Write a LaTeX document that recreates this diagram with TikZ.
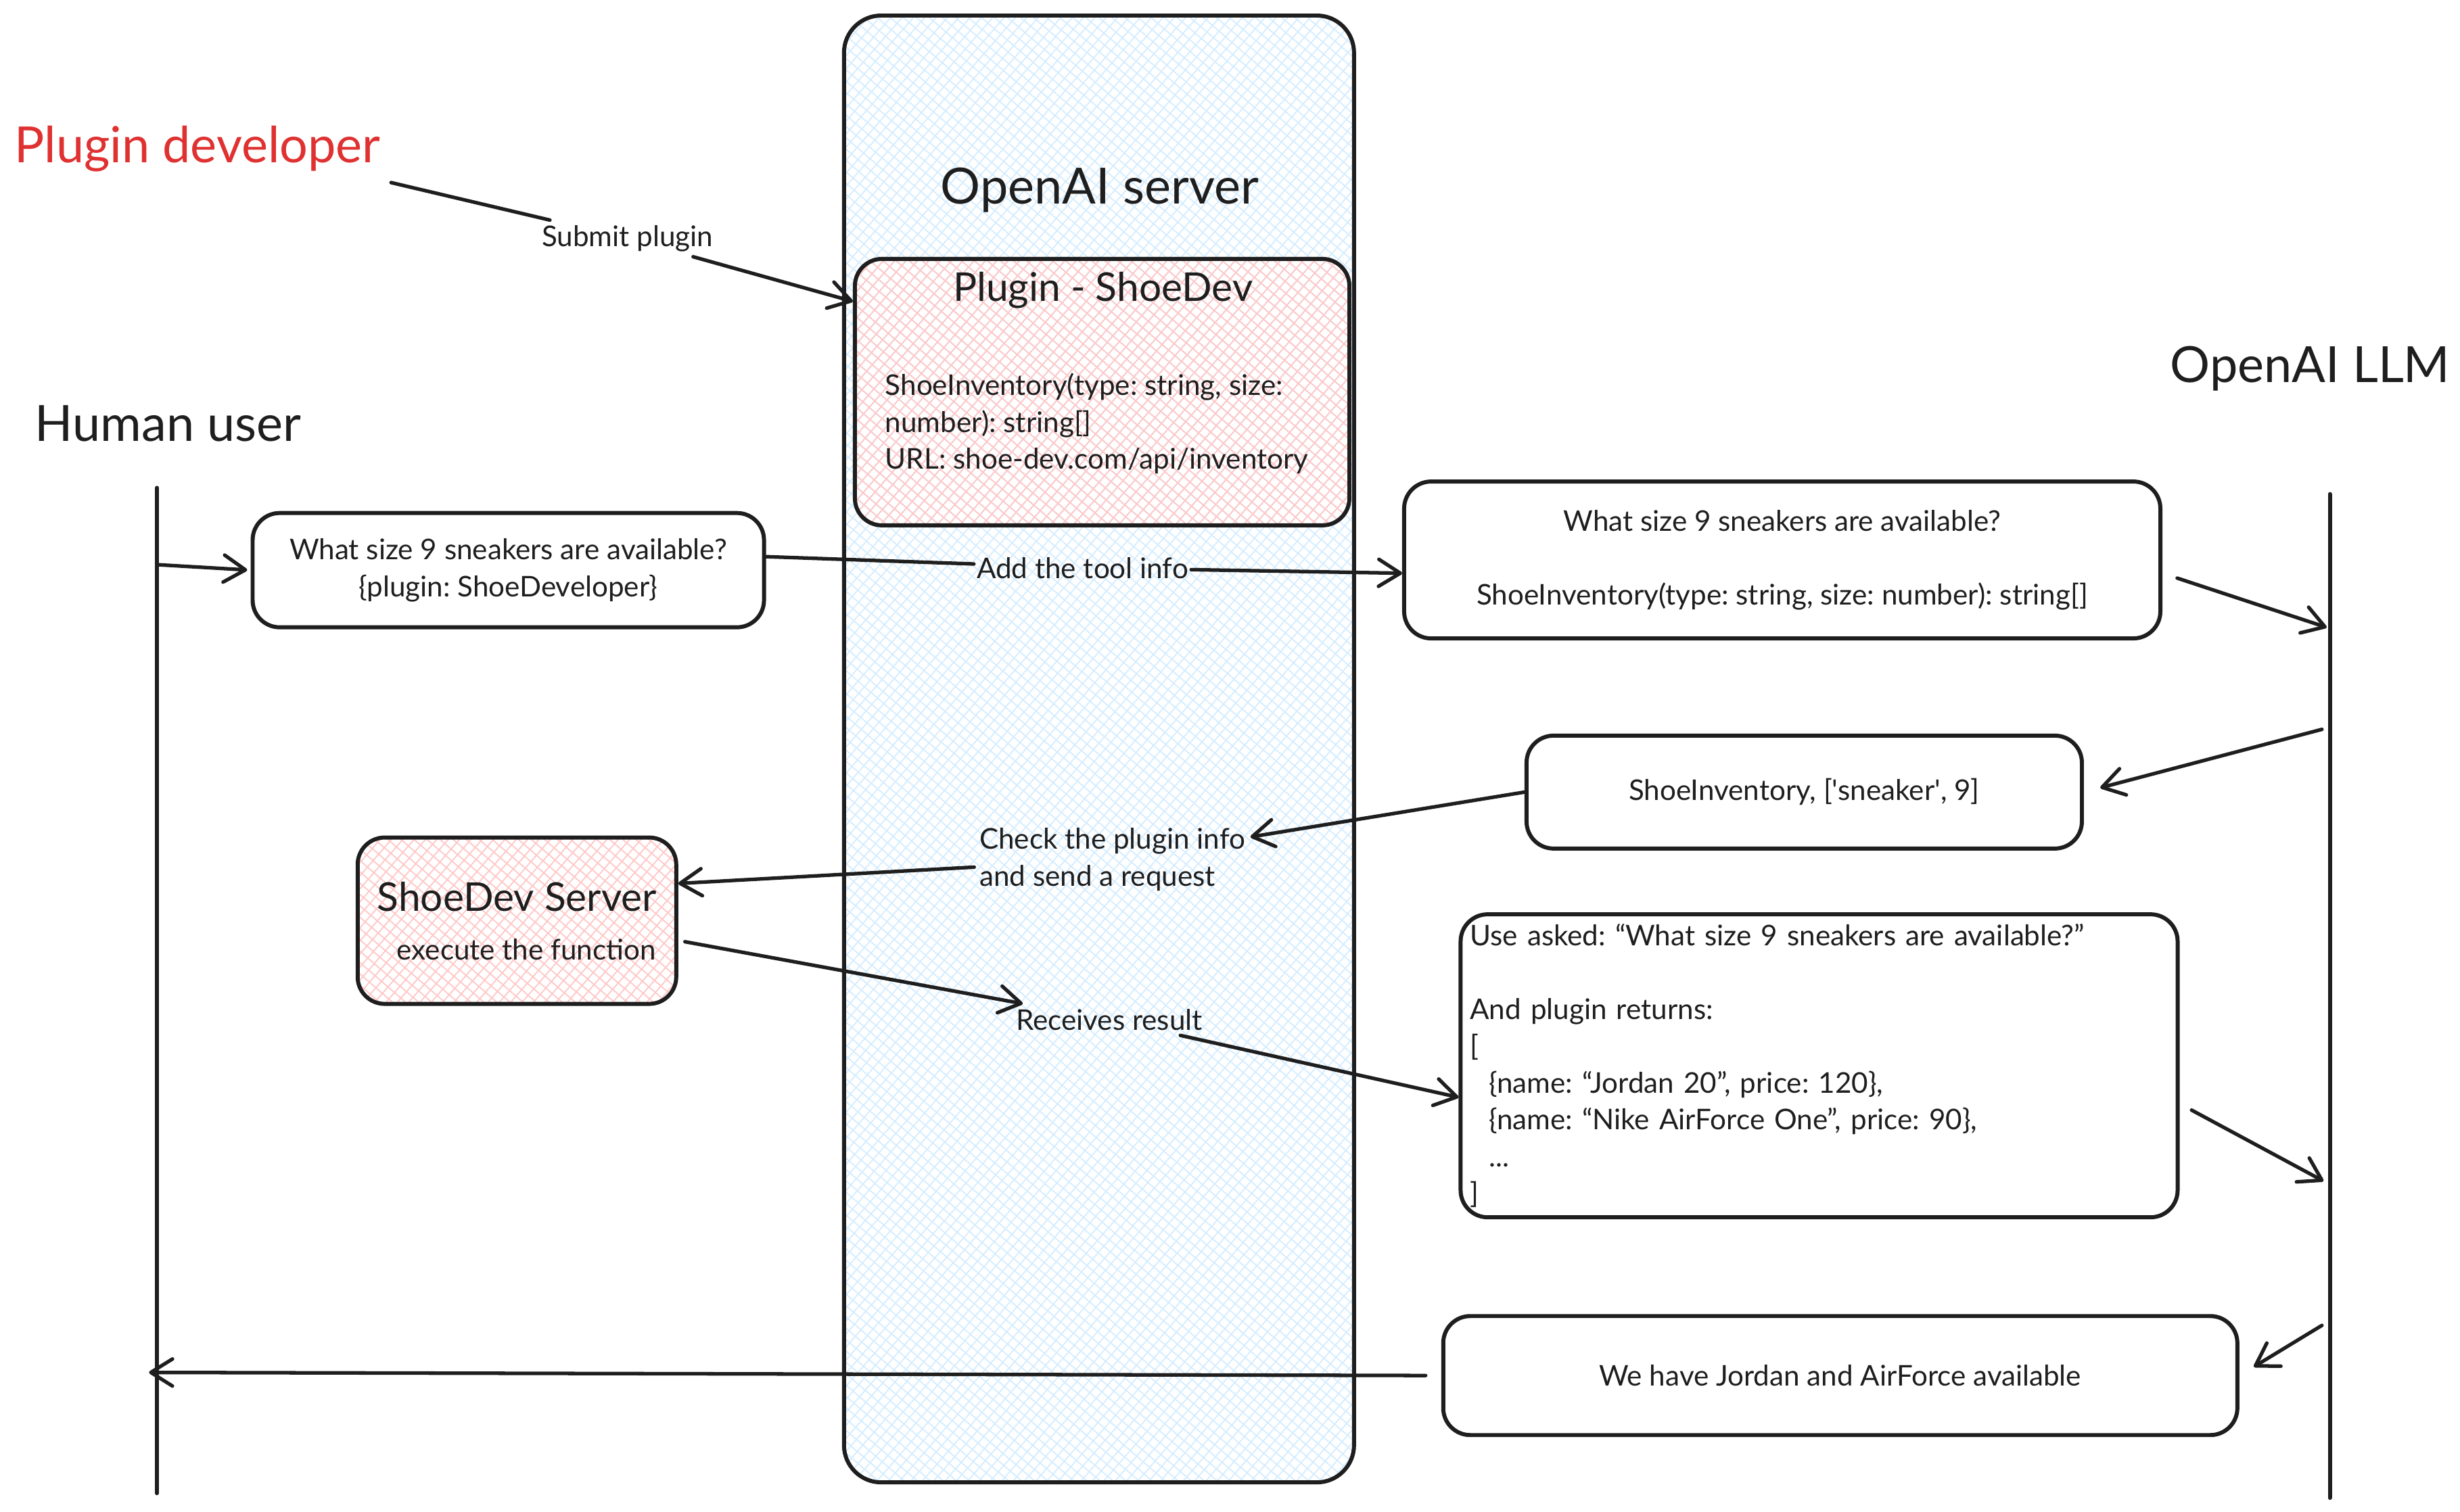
\documentclass[tikz,border=0pt]{standalone}
\usepackage{fontspec}
\setmainfont{Lato}
\frenchspacing
\usetikzlibrary{arrows.meta}
\usetikzlibrary{patterns.meta}
\usetikzlibrary{positioning}
\definecolor{ink}{HTML}{1E1E1E}
\definecolor{devred}{HTML}{E03131}
\definecolor{hatchblue}{RGB}{214,237,255}
\definecolor{hatchred}{HTML}{FFC9C9}
\newcommand\bigtxt{\fontsize{21pt}{25pt}\selectfont}
\newcommand\midtxt{\fontsize{16.7pt}{20pt}\selectfont}
\newcommand\smalltxt{\fontsize{12pt}{15.5pt}\selectfont}
\tikzset{
  box/.style={draw=ink, line width=1.7pt, rounded corners=0.4cm, inner sep=0pt},
  hatch/.style={pattern={Hatch[angle=49,distance=3.6pt,line width=0.55pt]}, pattern color=#1},
  lbl/.style={inner sep=2pt},
  life/.style={draw=ink, line width=1.7pt, line cap=round},
  link/.style={draw=ink, line width=1.5pt, line cap=round},
  flow/.style={link, -{Straight Barb[length=3.2mm,width=4mm,round]}},
}

\begin{document}
\begin{tikzpicture}[x=0.023195cm, y=-0.023195cm, font=\smalltxt, text=ink]
    \useasboundingbox (0,0) rectangle (1568,963.6);

    \node[box, hatch=hatchblue, rounded corners=0.55cm, minimum width=7.54cm, minimum height=21.69cm] (server) at (700.5,477.5) {};
    \node[font=\bigtxt] (servertitle) at (701,121) {OpenAI server};
    \node[box, hatch=hatchred, minimum width=7.31cm, minimum height=3.94cm] (plugin) at (702.5,250) {};
    \node[font=\midtxt] (plugintitle) at (703,185) {Plugin - ShoeDev};
    \node[anchor=west, align=left, inner sep=0pt] (pluginbody) at (564,270) {ShoeInventory(type: string, size:\\number): string[]\\URL: shoe-dev.com/api/inventory};

    \node[anchor=west, inner sep=0pt, font=\bigtxt, text=devred] (dev) at (9,95) {Plugin developer};
    \node[anchor=west, inner sep=0pt, font=\bigtxt] (human) at (22,270) {Human user};
    \node[anchor=west, inner sep=0pt, font=\bigtxt] (llm) at (1383,235) {OpenAI LLM};

    \coordinate (hutop) at (100,311);
    \coordinate (hubot) at (100,952);
    \coordinate (llmtop) at (1485,315);
    \coordinate (llmbot) at (1485,955);
    \draw[life] (hutop) -- (hubot);
    \draw[life] (llmtop) -- (llmbot);

    \node[box, minimum width=7.56cm, minimum height=1.69cm, align=center] (ask) at (324,363.5) {What size 9 sneakers are available?\\\{plugin: ShoeDeveloper\}};
    \node[box, minimum width=11.18cm, minimum height=2.32cm, align=center] (query) at (1136,357) {What size 9 sneakers are available?\\[\baselineskip]ShoeInventory(type: string, size: number): string[]};
    \node[box, minimum width=8.21cm, minimum height=1.67cm] (call) at (1150,505) {ShoeInventory, [\textquotesingle sneaker\textquotesingle, 9]};
    \node[box, hatch=hatchred, minimum width=4.71cm, minimum height=2.46cm, align=center] (shoedev) at (329.5,587) {{\midtxt ShoeDev Server}\\[5pt]\hspace*{0.28cm}execute the function};
    \node[box, minimum width=10.6cm, minimum height=4.48cm, text width=10.32cm, inner xsep=0.14cm, align=left] (result) at (1159.5,679.5) {Use asked: “What size 9 sneakers are available?”\\[\baselineskip]And plugin returns:\\{[}\\\hspace*{0.28cm}\{name: “Jordan 20”, price: 120\},\\\hspace*{0.28cm}\{name: “Nike AirForce One”, price: 90\},\\\hspace*{0.28cm}...\\{]}};
    \node[box, minimum width=11.74cm, minimum height=1.76cm] (answer) at (1173,877) {We have Jordan and AirForce available};

    \node[lbl] (submit) at (400,152) {Submit plugin};
    \node[lbl, inner sep=1pt] (addtool) at (690,362) {Add the tool info};
    \node[lbl, align=left] (check) at (709,548) {Check the plugin info\\and send a request};
    \node[lbl] (recv) at (707,650) {Receives result};

    \coordinate (hu1) at (100,360);
    \coordinate (hu2) at (95,875);
    \coordinate (llm1) at (1483,400);
    \coordinate (llm2) at (1480,465);
    \coordinate (llm3) at (1481,753);
    \coordinate (llm4) at (1480,845);

    \draw[link] ([xshift=0.15cm, yshift=-0.15cm]dev.south east) -- (submit);
    \draw[flow] (submit) -- (plugin.160);
    \draw[flow, shorten >=0.05cm] (hu1) -- (ask.west);
    \draw[link] (ask.3) -- (addtool);
    \draw[flow] (addtool) -- (query.182);
    \draw[flow, shorten <=0.23cm] (query.-2) -- (llm1);
    \draw[flow, shorten >=0.25cm] (llm2) -- (call.east);
    \draw[flow] (call.west) -- (check);
    \draw[flow] (check) -- (shoedev.13);
    \draw[flow, shorten <=0.1cm] (shoedev.-7) -- (recv);
    \draw[flow] (recv) -- (result.185);
    \draw[flow, shorten <=0.2cm] (result.-6) -- (llm3);
    \draw[flow, shorten >=0.25cm] (llm4) -- (answer.east);
    \draw[flow, shorten <=0.23cm] (answer.west) -- (hu2);

  \end{tikzpicture}
\end{document}
